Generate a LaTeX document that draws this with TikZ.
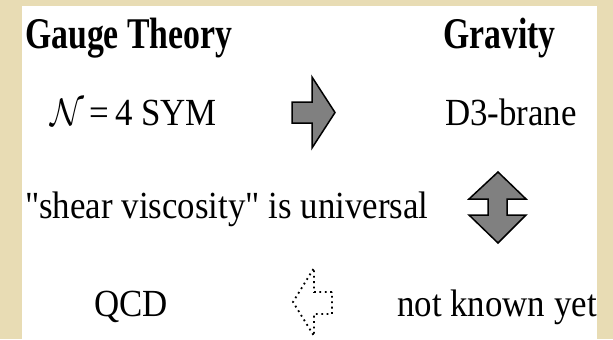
\documentclass[tikz,border=0pt]{standalone}
\usepackage{fix-cm}
\usepackage{fontspec}
\setmainfont{Liberation Serif}
\usepackage{xcolor}
\usepackage{tikz}
\definecolor{framebeige}{RGB}{232,220,180}
\definecolor{arrowgray}{RGB}{128,128,128}
\newcommand{\tallbox}[1]{\scalebox{1}[1.1]{#1}}
\newcommand{\narrowbox}[1]{\scalebox{0.77}[1]{#1}}

\begin{document}
\begin{tikzpicture}[
  x=1bp, y=-1bp,
  label/.style={anchor=base west, inner sep=0pt, font=\fontsize{35}{40}\selectfont},
  heading/.style={anchor=base west, inner sep=0pt, font=\fontsize{44}{48}\selectfont\bfseries},
  fatarrow/.style={draw=black, fill=arrowgray, line width=1.5bp, line join=miter},
  hintarrow/.style={draw=black, fill=white, line width=1.8bp, dash pattern=on 1.8bp off 3.6bp}
]
  \useasboundingbox (0,0) rectangle (613,339);
  % frame
  \fill[framebeige] (0,0) rectangle (613,339);
  \fill[white] (22,6) rectangle (597,339);

  % headings
  \node[heading] (gauge) at (25,48) {\narrowbox{Gauge Theory}};
  \node[heading] (gravity) at (443,48) {\narrowbox{Gravity}};

  % rows
  \node[label] (sym) at (50,125) {\tallbox{$\mathcal{N}$\,=\,4 SYM}};
  \node[label] (brane) at (445,125) {\tallbox{D3-brane}};
  \node[label] (shear) at (25,218) {\tallbox{\textquotedbl shear viscosity\textquotedbl{} is universal}};
  \node[label] (qcd) at (94,316) {\tallbox{QCD}};
  \node[label] (unknown) at (397,316) {\tallbox{not known yet}};

  % sym -> brane
  \draw[fatarrow] (292,102) -- (312,102) -- (312,77) -- (335,112.5)
    -- (312,148) -- (312,123) -- (292,123) -- cycle;
  % brane <-> shear
  \draw[fatarrow] (498,172) -- (526,199) -- (507,199) -- (507,215)
    -- (526,215) -- (498,243) -- (469,215) -- (488,215) -- (488,199)
    -- (469,199) -- cycle;
  % unknown -> qcd
  \draw[hintarrow] (332,292) -- (314,292) -- (314,268) -- (293,302)
    -- (314,336) -- (314,314) -- (332,314) -- cycle;
\end{tikzpicture}
\end{document}
